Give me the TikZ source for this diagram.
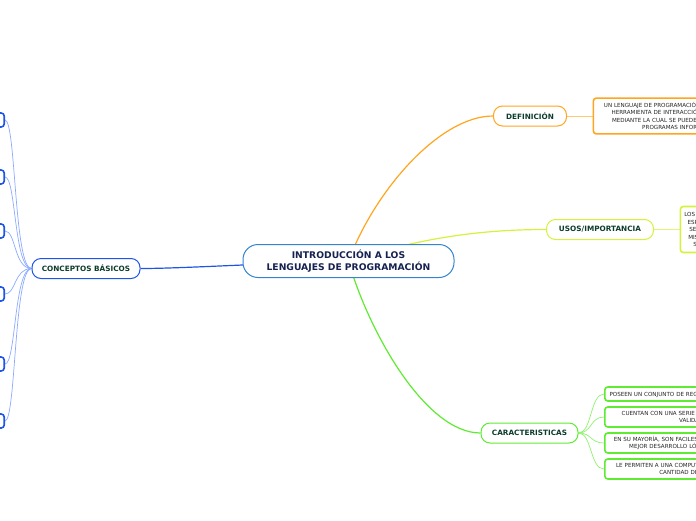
\documentclass[tikz,border=0pt]{standalone}
\usepackage{fontspec}
\setmainfont{DejaVu Sans}
\usepackage{xcolor}
\usepackage{tikz}
\usetikzlibrary{positioning, backgrounds}

\definecolor{mainblue}{RGB}{52,132,206}
\definecolor{navytext}{RGB}{22,34,80}
\definecolor{topictext}{RGB}{12,60,44}
\definecolor{orangeline}{RGB}{255,165,30}
\definecolor{limeline}{RGB}{212,242,60}
\definecolor{greenline}{RGB}{95,235,50}
\definecolor{blueline}{RGB}{30,85,230}
\definecolor{lightblue}{RGB}{140,170,255}

\begin{document}
\begin{tikzpicture}[
  x=1pt, y=-1pt,
  topic/.style={draw, rounded corners=9pt, line width=1pt, fill=white, minimum height=20pt, inner xsep=5pt, font=\bfseries\fontsize{7.3}{9}\selectfont, text=topictext},
  box/.style={draw, rounded corners=3pt, line width=1.6pt, fill=white, align=center, inner sep=4pt, font=\fontsize{5.6}{7.5}\selectfont, text=black!85},
  branch/.style={line width=1.2pt},
  twig/.style={line width=0.7pt},
]
\useasboundingbox (0,0) rectangle (696,520);
\clip (0,0) rectangle (696,520);

% Central topic
\node[draw=mainblue, fill=white, line width=1pt, rounded corners=15pt, minimum width=211pt, minimum height=33pt, align=center, font=\bfseries\fontsize{9.2}{11.5}\selectfont, text=navytext] (intro) at (348.5,261) {INTRODUCCIÓN A LOS\\LENGUAJES DE PROGRAMACIÓN};

% Main topics
\node[topic, draw=orangeline, minimum width=73pt] (definicion) at (530,116) {DEFINICIÓN};
\node[topic, draw=limeline, minimum width=107pt] (usos) at (600,229.5) {USOS/IMPORTANCIA};
\node[topic, draw=greenline, minimum width=97pt] (caract) at (529.5,433) {CARACTERISTICAS};
\node[topic, draw=blueline, minimum width=108pt] (conceptos) at (86,268.5) {CONCEPTOS BÁSICOS};

% Details
\node[box, draw=orangeline, right=25.5pt of definicion, text width=170pt, minimum height=34pt] (defbox) {UN LENGUAJE DE PROGRAMACIÓN ES UNA IMPORTANTE\\HERRAMIENTA DE INTERACCIÓN ENTRE USUARIOS\\MEDIANTE LA CUAL SE PUEDEN CREAR DIVERSOS\\PROGRAMAS INFORMÁTICOS};
\node[box, draw=limeline, right=25.5pt of usos, minimum height=46pt, inner sep=4pt] (usosbox) {LOS LENGUAJES DE PROGRAMACIÓN SON\\ESPECIALMENTE IMPORTANTES YA QUE\\SE UTILIZAN PARA CREAR TODOS LOS\\MISMOS PROGRAMAS Y APLICACIONES\\SOFTWARE QUE USAMOS A DIARIO};

\node[box, draw=greenline, anchor=west, text width=182pt, minimum height=14pt, inner ysep=2pt] (car1) at (604,394) {POSEEN UN CONJUNTO DE REGLAS SINTÁCTICAS Y SEMÁNTICAS};
\node[box, draw=greenline, anchor=west, text width=182pt, minimum height=20pt, inner ysep=2pt] (car2) at (604,417) {CUENTAN CON UNA SERIE DE INSTRUCCIONES Y PASOS\\VALIDACIONES};
\node[box, draw=greenline, anchor=west, text width=182pt, minimum height=20pt, inner ysep=2pt] (car3) at (604,443) {EN SU MAYORÍA, SON FACILES DE APRENDER Y PERMITEN UN\\MEJOR DESARROLLO LÓGICO DEL PROGRAMADOR};
\node[box, draw=greenline, anchor=west, text width=182pt, minimum height=20pt, inner ysep=2pt] (car4) at (604,469) {LE PERMITEN A UNA COMPUTADORA PROCESAR Y MANEJAR\\CANTIDAD DE INFORMACIÓN};

\foreach \y [count=\i] in {120,177,231,294,364,421}
  \node[box, draw=blueline, anchor=east, minimum width=50pt, minimum height=14pt] (con\i) at (5,\y) {};

% Branches
\begin{scope}[on background layer]
\draw[branch, orangeline] (intro.center) .. controls (375,190) and (440,116) .. (definicion.west);
\draw[branch, limeline] (intro.center) .. controls (420,238) and (480,229.5) .. (usos.west);
\draw[branch, greenline] (intro.center) .. controls (368,330) and (425,433) .. (caract.west);
\draw[branch, blueline] (intro.center) .. controls (250,264) and (180,268.5) .. (conceptos.east);

\draw[twig, orangeline!60] (definicion.east) -- (defbox.west);
\draw[twig, limeline!70] (usos.east) -- (usosbox.west);
\foreach \i in {1,...,4}
  \draw[twig, greenline!70] (caract.east) .. controls (592,433) and (590,0 |- car\i.west) .. (car\i.west);
\foreach \i in {1,...,6}
  \draw[twig, lightblue] (conceptos.west) .. controls (14,268.5) and (16,0 |- con\i.east) .. (con\i.east);
\end{scope}

\end{tikzpicture}
\end{document}
